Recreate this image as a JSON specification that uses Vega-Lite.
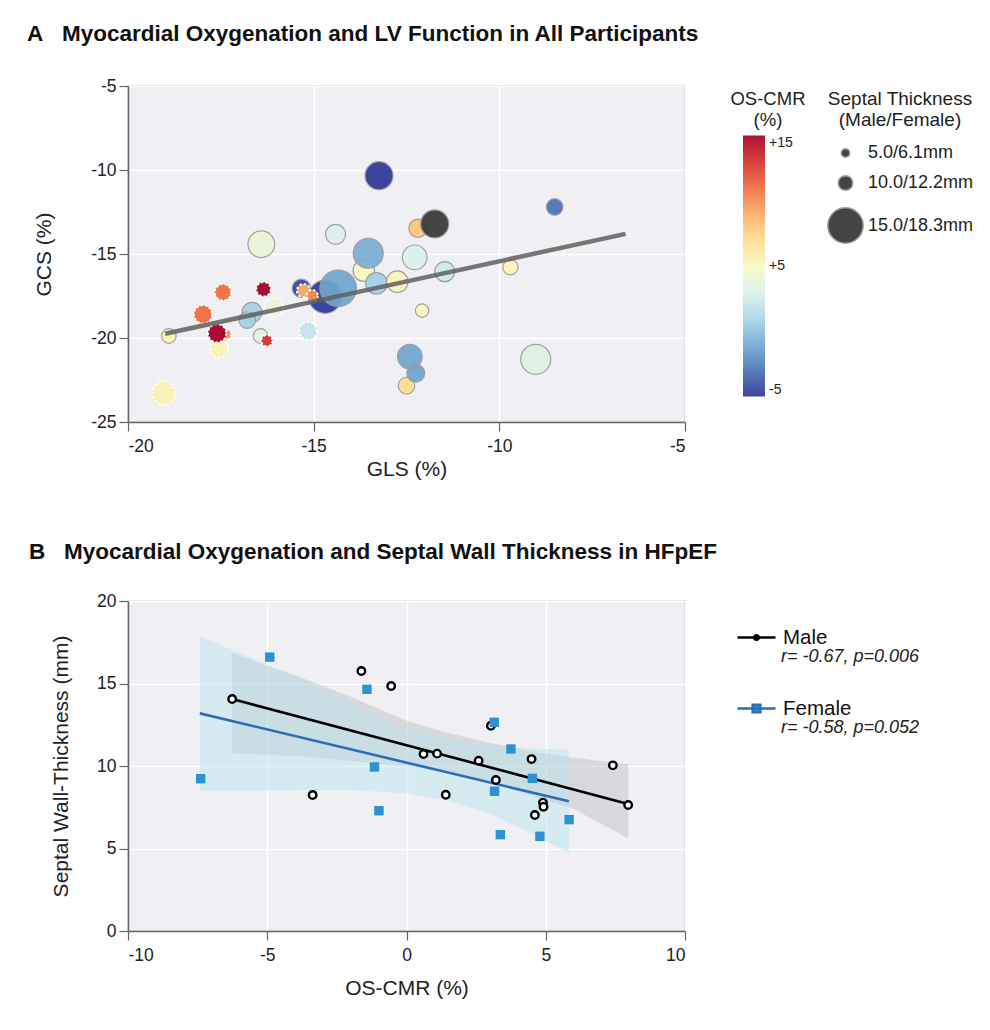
{
  "$schema": "https://vega.github.io/schema/vega-lite/v6.json",
  "background": "white",
  "padding": {"left": 26, "top": 21, "right": 5, "bottom": 5},
  "config": {
    "font": "Liberation Sans",
    "locale": {"number": {"decimal": ".", "thousands": ",", "grouping": [3], "currency": ["$", ""], "minus": "-"}},
    "view": {"fill": "#efeff4", "stroke": "#8c8c8c", "strokeWidth": 1.2},
    "axis": {
      "gridColor": "#ffffff", "gridWidth": 1.5, "domainColor": "#666666", "domainWidth": 1.5,
      "tickColor": "#666666", "tickSize": 9, "tickWidth": 1.2,
      "labelFont": "Liberation Sans", "labelFontSize": 17.5, "labelColor": "#222222", "labelPadding": 3,
      "titleFont": "Liberation Sans", "titleFontSize": 21, "titleFontWeight": "normal", "titleColor": "#222222"
    },
    "axisX": {"labelPadding": 6},
    "title": {"font": "Liberation Sans", "fontSize": 22.5, "fontWeight": "bold", "anchor": "start", "color": "#111111", "frame": "group"},
    "legend": {"labelFont": "Liberation Sans", "titleFont": "Liberation Sans", "labelColor": "#222222", "titleColor": "#222222", "symbolBaseFillColor": "#4b535d", "symbolBaseStrokeColor": "#111111"},
    "concat": {"spacing": 58}
  },
  "datasets": {
    "bubbles": [
      {"gls": -14.69, "gcs": -17.54, "os": -5, "septal": 14.3, "group": "HFpEF"},
      {"gls": -14.34, "gcs": -17.04, "os": -1.2, "septal": 15.4, "group": "HFpEF"},
      {"gls": -16.41, "gcs": -14.42, "os": 4, "septal": 12.4, "group": "HFpEF"},
      {"gls": -13.24, "gcs": -10.34, "os": -5, "septal": 12.75, "group": "HFpEF"},
      {"gls": -14.41, "gcs": -13.83, "os": 3, "septal": 10.9, "group": "HFpEF"},
      {"gls": -13.65, "gcs": -15.99, "os": 5, "septal": 11.2, "group": "HFpEF"},
      {"gls": -13.53, "gcs": -14.96, "os": -0.8, "septal": 13.3, "group": "HFpEF"},
      {"gls": -13.31, "gcs": -16.75, "os": 0.7, "septal": 11.2, "group": "HFpEF"},
      {"gls": -12.75, "gcs": -16.65, "os": 5.2, "septal": 11.2, "group": "HFpEF"},
      {"gls": -12.28, "gcs": -15.2, "os": 3, "septal": 11.9, "group": "HFpEF"},
      {"gls": -12.19, "gcs": -13.47, "os": 8, "septal": 10.6, "group": "HFpEF"},
      {"gls": -11.47, "gcs": -16.05, "os": 2.5, "septal": 10.9, "group": "HFpEF"},
      {"gls": -9.7, "gcs": -15.79, "os": 5.3, "septal": 10.1, "group": "HFpEF"},
      {"gls": -12.08, "gcs": -18.37, "os": 5.3, "septal": 8.8, "group": "HFpEF"},
      {"gls": -8.51, "gcs": -12.2, "os": -3, "septal": 10.3, "group": "HFpEF"},
      {"gls": -12.41, "gcs": -21.11, "os": -1.2, "septal": 11.9, "group": "HFpEF"},
      {"gls": -12.5, "gcs": -22.84, "os": 7, "septal": 10.3, "group": "HFpEF"},
      {"gls": -12.25, "gcs": -22.1, "os": -1.3, "septal": 10.5, "group": "HFpEF"},
      {"gls": -9.02, "gcs": -21.27, "os": 3.3, "septal": 13.3, "group": "HFpEF"},
      {"gls": -15.33, "gcs": -17.04, "os": -4.5, "septal": 10.6, "group": "HFpEF"},
      {"gls": -16.66, "gcs": -18.47, "os": 0.7, "septal": 10.9, "group": "HFpEF"},
      {"gls": -16.79, "gcs": -18.93, "os": 0.7, "septal": 10.3, "group": "HFpEF"},
      {"gls": -18.9, "gcs": -19.88, "os": 5.5, "septal": 10.0, "group": "HFpEF"},
      {"gls": -16.43, "gcs": -19.88, "os": 3.5, "septal": 10.0, "group": "HFpEF"},
      {"gls": -11.74, "gcs": -13.21, "os": null, "septal": 12.75, "group": "HFpEF"},
      {"gls": -19.03, "gcs": -23.27, "os": 5.5, "septal": 11.7, "group": "Control"},
      {"gls": -17.55, "gcs": -20.65, "os": 5.3, "septal": 10.6, "group": "Control"},
      {"gls": -15.15, "gcs": -19.58, "os": 2, "septal": 10.5, "group": "Control"},
      {"gls": -16.26, "gcs": -20.16, "os": 13, "septal": 7.0, "group": "Control"},
      {"gls": -16.07, "gcs": -18.17, "os": 4, "septal": 10.6, "group": "Control"},
      {"gls": -17.98, "gcs": -18.59, "os": 11, "septal": 10.6, "group": "Control"},
      {"gls": -17.44, "gcs": -17.28, "os": 11, "septal": 10.3, "group": "Control"},
      {"gls": -17.35, "gcs": -19.78, "os": 10, "septal": 5.9, "group": "Control"},
      {"gls": -17.6, "gcs": -19.72, "os": 15, "septal": 10.6, "group": "Control"},
      {"gls": -16.35, "gcs": -17.1, "os": 15, "septal": 10.0, "group": "Control"},
      {"gls": -15.27, "gcs": -17.18, "os": 8.8, "septal": 8.8, "group": "Control"},
      {"gls": -15.04, "gcs": -17.48, "os": 10, "septal": 7.0, "group": "Control"}
    ],
    "gcsfit": [
      {"gls": -19.0, "gcs": -19.75},
      {"gls": -6.6, "gcs": -13.8}
    ],
    "pts": [
      {"sex": "Male", "os": -6.26, "sw": 14.06},
      {"sex": "Male", "os": -1.62, "sw": 15.76},
      {"sex": "Male", "os": -0.55, "sw": 14.85},
      {"sex": "Male", "os": -3.37, "sw": 8.24},
      {"sex": "Male", "os": 3.03, "sw": 12.44},
      {"sex": "Male", "os": 0.61, "sw": 10.73},
      {"sex": "Male", "os": 1.1, "sw": 10.75},
      {"sex": "Male", "os": 2.59, "sw": 10.32},
      {"sex": "Male", "os": 4.49, "sw": 10.42},
      {"sex": "Male", "os": 7.41, "sw": 10.04},
      {"sex": "Male", "os": 3.21, "sw": 9.15},
      {"sex": "Male", "os": 1.41, "sw": 8.26},
      {"sex": "Male", "os": 4.9, "sw": 7.78},
      {"sex": "Male", "os": 4.92, "sw": 7.53},
      {"sex": "Male", "os": 4.61, "sw": 7.03},
      {"sex": "Male", "os": 7.96, "sw": 7.64},
      {"sex": "Female", "os": -4.91, "sw": 16.6},
      {"sex": "Female", "os": -1.42, "sw": 14.65},
      {"sex": "Female", "os": -1.15, "sw": 9.94},
      {"sex": "Female", "os": -7.39, "sw": 9.23},
      {"sex": "Female", "os": -0.99, "sw": 7.29},
      {"sex": "Female", "os": 3.15, "sw": 12.65},
      {"sex": "Female", "os": 3.75, "sw": 11.03},
      {"sex": "Female", "os": 4.52, "sw": 9.25},
      {"sex": "Female", "os": 3.16, "sw": 8.47},
      {"sex": "Female", "os": 5.84, "sw": 6.75},
      {"sex": "Female", "os": 3.37, "sw": 5.84},
      {"sex": "Female", "os": 4.79, "sw": 5.74}
    ],
    "fits": [
      {"sex": "Male", "os": -6.26, "fit": 14.06},
      {"sex": "Male", "os": 7.96, "fit": 7.7},
      {"sex": "Female", "os": -7.42, "fit": 13.19},
      {"sex": "Female", "os": 5.83, "fit": 7.86}
    ],
    "bands": [
      {"sex": "Male", "os": -6.26, "lo": 10.77, "hi": 16.83},
      {"sex": "Male", "os": -4, "lo": 10.6, "hi": 15.5},
      {"sex": "Male", "os": -2, "lo": 10.3, "hi": 14.2},
      {"sex": "Male", "os": 0, "lo": 10.0, "hi": 12.75},
      {"sex": "Male", "os": 1.5, "lo": 9.6, "hi": 12.0},
      {"sex": "Male", "os": 3, "lo": 9.0, "hi": 11.4},
      {"sex": "Male", "os": 4.5, "lo": 8.2, "hi": 10.9},
      {"sex": "Male", "os": 6, "lo": 7.4, "hi": 10.5},
      {"sex": "Male", "os": 7.96, "lo": 5.62, "hi": 10.12},
      {"sex": "Female", "os": -7.42, "lo": 8.48, "hi": 17.88},
      {"sex": "Female", "os": -6, "lo": 8.5, "hi": 16.85},
      {"sex": "Female", "os": -4, "lo": 8.55, "hi": 15.4},
      {"sex": "Female", "os": -2, "lo": 8.55, "hi": 13.9},
      {"sex": "Female", "os": 0, "lo": 8.35, "hi": 12.2},
      {"sex": "Female", "os": 1.5, "lo": 7.9, "hi": 11.7},
      {"sex": "Female", "os": 3, "lo": 7.1, "hi": 11.25},
      {"sex": "Female", "os": 4.5, "lo": 5.9, "hi": 11.05},
      {"sex": "Female", "os": 5.83, "lo": 4.75, "hi": 11.0}
    ]
  },
  "vconcat": [
    {
      "width": 557,
      "height": 336,
      "title": {"text": "A\u00a0\u00a0\u00a0Myocardial Oxygenation and LV Function in All Participants", "dx": -101, "offset": 32},
      "layer": [
        {
          "data": {"name": "bubbles"},
          "transform": [{"filter": "datum.group === 'HFpEF' && isValid(datum.os)"}],
          "mark": {"type": "circle", "opacity": 0.93, "stroke": "#9b9b9b", "strokeWidth": 1.2},
          "encoding": {
            "x": {"field": "gls", "type": "quantitative", "scale": {"domain": [-20, -5], "nice": false, "zero": false}, "axis": {"values": [-20, -15, -10, -5], "title": "GLS (%)", "titlePadding": 4}},
            "y": {"field": "gcs", "type": "quantitative", "scale": {"domain": [-25, -5], "nice": false, "zero": false}, "axis": {"values": [-25, -20, -15, -10, -5], "title": "GCS (%)", "titlePadding": 36}},
            "color": {"field": "os", "type": "quantitative", "scale": {"scheme": "redyellowblue", "reverse": true, "domain": [-5, 15]},
              "legend": {"title": ["OS-CMR", "(%)"], "orient": "none", "legendX": 602, "legendY": 4, "direction": "vertical", "gradientLength": 261, "gradientThickness": 22, "values": [-5, 5, 15], "labelExpr": "datum.value > 0 ? '+' + datum.label : datum.label", "titleAnchor": "middle", "titleAlign": "center", "titleFontSize": 18.5, "titleFontWeight": "normal", "titleLineHeight": 21, "labelFontSize": 14, "labelOffset": 4, "titlePadding": 6}},
            "size": {"field": "septal", "type": "quantitative", "scale": {"domain": [5, 10, 15], "range": [74, 213, 1253], "zero": false},
              "legend": {"title": ["Septal Thickness", "(Male/Female)"], "orient": "none", "legendX": 699, "legendY": 4, "values": [5, 10, 15], "labelExpr": "datum.value == 5 ? '5.0/6.1mm' : datum.value == 10 ? '10.0/12.2mm' : '15.0/18.3mm'", "titleAnchor": "middle", "titleAlign": "center", "titleFontSize": 19, "titleFontWeight": "normal", "titleLineHeight": 21, "labelFontSize": 18, "symbolFillColor": "#4b535d", "symbolStrokeColor": "#111111", "symbolStrokeWidth": 1.5, "symbolOpacity": 1, "symbolType": "circle", "rowPadding": 10, "titlePadding": 14, "labelOffset": 4}}
          }
        },
        {
          "data": {"name": "bubbles"},
          "transform": [{"filter": "!isValid(datum.os)"}],
          "mark": {"type": "circle", "opacity": 0.95, "color": "#3b3b3b", "stroke": "#9b9b9b", "strokeWidth": 1.2},
          "encoding": {
            "x": {"field": "gls", "type": "quantitative"},
            "y": {"field": "gcs", "type": "quantitative"},
            "size": {"field": "septal", "type": "quantitative"}
          }
        },
        {
          "data": {"name": "bubbles"},
          "transform": [{"filter": "datum.group === 'Control'"}],
          "mark": {"type": "circle", "opacity": 0.95, "stroke": "#ffffff", "strokeWidth": 2, "strokeDash": [2.5, 2]},
          "encoding": {
            "x": {"field": "gls", "type": "quantitative"},
            "y": {"field": "gcs", "type": "quantitative"},
            "color": {"field": "os", "type": "quantitative"},
            "size": {"field": "septal", "type": "quantitative"}
          }
        },
        {
          "data": {"name": "gcsfit"},
          "mark": {"type": "line", "color": "#5f5f5f", "strokeWidth": 4.5, "opacity": 0.85},
          "encoding": {
            "x": {"field": "gls", "type": "quantitative"},
            "y": {"field": "gcs", "type": "quantitative"}
          }
        }
      ]
    },
    {
      "width": 557,
      "height": 330,
      "title": {"text": "B\u00a0\u00a0\u00a0Myocardial Oxygenation and Septal Wall Thickness in HFpEF", "dx": -99, "offset": 29},
      "layer": [
        {
          "data": {"name": "bands"},
          "transform": [{"filter": "datum.sex === 'Male'"}],
          "mark": {"type": "area", "color": "#b6b6bc", "opacity": 0.4},
          "encoding": {
            "x": {"field": "os", "type": "quantitative", "scale": {"domain": [-10, 10], "nice": false, "zero": false}, "axis": {"values": [-10, -5, 0, 5, 10], "title": "OS-CMR (%)", "titlePadding": 14}},
            "y": {"field": "lo", "type": "quantitative", "scale": {"domain": [0, 20], "nice": false}, "axis": {"values": [0, 5, 10, 15, 20], "title": "Septal Wall-Thickness (mm)", "titlePadding": 25}},
            "y2": {"field": "hi"}
          }
        },
        {
          "data": {"name": "bands"},
          "transform": [{"filter": "datum.sex === 'Female'"}],
          "mark": {"type": "area", "color": "#b9e4ee", "opacity": 0.45},
          "encoding": {
            "x": {"field": "os", "type": "quantitative"},
            "y": {"field": "lo", "type": "quantitative"},
            "y2": {"field": "hi"}
          }
        },
        {
          "data": {"name": "fits"},
          "transform": [{"filter": "datum.sex === 'Male'"}],
          "mark": {"type": "line", "strokeWidth": 2.6},
          "encoding": {
            "x": {"field": "os", "type": "quantitative"},
            "y": {"field": "fit", "type": "quantitative"},
            "color": {"field": "sex", "type": "nominal", "scale": {"domain": ["Male"], "range": ["#000000"]},
              "legend": {"orient": "none", "legendX": 608, "legendY": 16, "title": "\u200b\u00a0\u00a0\u00a0\u00a0\u00a0\u00a0\u00a0\u00a0\u00a0r= -0.67, p=0.006", "titleLimit": 400, "titleOrient": "bottom", "titleAnchor": "start", "titleAlign": "left", "titleFontStyle": "italic", "titleFontWeight": "normal", "titleFontSize": 18, "titlePadding": 0, "labelFontSize": 20.5, "labelColor": "#111111", "labelOffset": 6, "symbolType": "M-1,0L1,0M0.12,0A0.12,0.12,0,1,1,-0.12,0A0.12,0.12,0,1,1,0.12,0Z", "symbolSize": 1444, "symbolStrokeWidth": 2.6, "symbolFillColor": "#000000", "symbolStrokeColor": "#000000"}}
          }
        },
        {
          "data": {"name": "fits"},
          "transform": [{"filter": "datum.sex === 'Female'"}],
          "mark": {"type": "line", "strokeWidth": 2.6},
          "encoding": {
            "x": {"field": "os", "type": "quantitative"},
            "y": {"field": "fit", "type": "quantitative"},
            "color": {"field": "sex", "type": "nominal", "scale": {"domain": ["Female"], "range": ["#2f6cb3"]},
              "legend": {"orient": "none", "legendX": 608, "legendY": 87, "title": "\u200b\u00a0\u00a0\u00a0\u00a0\u00a0\u00a0\u00a0\u00a0\u00a0r= -0.58, p=0.052", "titleLimit": 400, "titleOrient": "bottom", "titleAnchor": "start", "titleAlign": "left", "titleFontStyle": "italic", "titleFontWeight": "normal", "titleFontSize": 18, "titlePadding": 0, "labelFontSize": 20.5, "labelColor": "#111111", "labelOffset": 6, "symbolType": "M-1,0L1,0M-0.2,-0.2L0.2,-0.2L0.2,0.2L-0.2,0.2Z", "symbolSize": 1444, "symbolStrokeWidth": 2.6, "symbolFillColor": "#2b93d1", "symbolStrokeColor": "#2f6cb3"}}
          }
        },
        {
          "data": {"name": "pts"},
          "transform": [{"filter": "datum.sex === 'Male'"}],
          "mark": {"type": "point", "shape": "circle", "fill": "#ffffff", "stroke": "#000000", "strokeWidth": 2.4, "size": 56, "opacity": 1},
          "encoding": {
            "x": {"field": "os", "type": "quantitative"},
            "y": {"field": "sw", "type": "quantitative"}
          }
        },
        {
          "data": {"name": "pts"},
          "transform": [{"filter": "datum.sex === 'Female'"}],
          "mark": {"type": "square", "color": "#2b93d1", "size": 88, "opacity": 1},
          "encoding": {
            "x": {"field": "os", "type": "quantitative"},
            "y": {"field": "sw", "type": "quantitative"}
          }
        }
      ],
      "resolve": {"scale": {"color": "independent"}}
    }
  ]
}
